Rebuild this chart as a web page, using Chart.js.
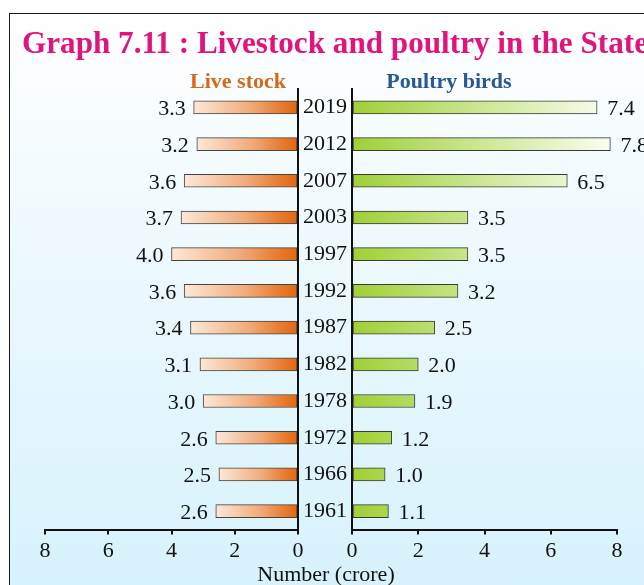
<!DOCTYPE html>
<html>
<head>
<meta charset="utf-8">
<script src="https://cdn.jsdelivr.net/npm/chart.js@4.4.1/dist/chart.umd.min.js"></script>
<style>
  html, body { margin: 0; padding: 0; background: #fff; }
  #page { position: relative; width: 644px; height: 585px; overflow: hidden; font-family: 'Liberation Serif', 'Times New Roman', serif; }
  #box {
    position: absolute; left: 9px; top: 13px; width: 700px; height: 620px;
    border: 1.5px solid #1a1a1a;
    background: linear-gradient(to bottom, #ffffff 0%, #eaf8fd 45%, #d3f1fc 100%);
  }
  canvas { position: absolute; left: 0; top: 0; }
  .txt { position: absolute; line-height: 1; white-space: nowrap; }
  #title { left: 22px; top: 26px; font-size: 32px; font-weight: bold; color: #e0147c; transform: scaleX(0.974); transform-origin: 0 0; }
  #lblLive { left: 238px; top: 70px; font-size: 22px; font-weight: bold; color: #d4691c; transform: translateX(-50%); }
  #lblPoultry { left: 449px; top: 70px; font-size: 22px; font-weight: bold; color: #2a5694; transform: translateX(-50%); }
  #xTitle { left: 326px; top: 563px; font-size: 22px; color: #111; transform: translateX(-50%); }
</style>
</head>
<body>
<div id="page">
  <div id="box"></div>
  <canvas id="leftChart" width="644" height="585"></canvas>
  <canvas id="rightChart" width="644" height="585"></canvas>
  <div class="txt" id="title">Graph 7.11 : Livestock and poultry in the State</div>
  <div class="txt" id="lblLive">Live stock</div>
  <div class="txt" id="lblPoultry">Poultry birds</div>
  <div class="txt" id="xTitle">Number (crore)</div>
</div>
<script>
// data (crore)
const years = ['2019', '2012', '2007', '2003', '1997', '1992', '1987', '1982', '1978', '1972', '1966', '1961'];
const livestock = [3.3, 3.2, 3.6, 3.7, 4.0, 3.6, 3.4, 3.1, 3.0, 2.6, 2.5, 2.6];
const poultry = [7.4, 7.8, 6.5, 3.5, 3.5, 3.2, 2.5, 2.0, 1.9, 1.2, 1.0, 1.1];
const xTicks = [0, 2, 4, 6, 8];

const serif = "'Liberation Serif', 'Times New Roman', serif";
const AXIS_H = 40;

// draw the number next to each bar end
const valueLabels = {
  id: 'valueLabels',
  afterDatasetsDraw(chart, args, opts) {
    const ctx = chart.ctx;
    const meta = chart.getDatasetMeta(0);
    const data = chart.data.datasets[0].data;
    ctx.save();
    ctx.font = '22px ' + serif;
    ctx.fillStyle = '#111';
    ctx.textBaseline = 'middle';
    ctx.textAlign = opts.side === 'left' ? 'right' : 'left';
    meta.data.forEach((bar, i) => {
      const x = opts.side === 'left' ? bar.x - 8 : bar.x + 10;
      ctx.fillText(data[i].toFixed(1), x, bar.y + 2);
    });
    ctx.restore();
  }
};

function xAxis(reverse) {
  return {
    type: 'linear',
    min: 0,
    max: 8,
    reverse: reverse,
    afterFit: (s) => { s.height = AXIS_H; },
    afterBuildTicks: (s) => { s.ticks = xTicks.map(v => ({ value: v })); },
    ticks: { color: '#111', font: { family: serif, size: 22 }, padding: 4, maxRotation: 0 },
    grid: { drawOnChartArea: false, drawTicks: true, tickLength: 5, color: '#111', lineWidth: 2 },
    border: { display: true, color: '#111', width: 2 }
  };
}

// Livestock (left, reversed)
new Chart(document.getElementById('leftChart'), {
  type: 'bar',
  data: {
    labels: years,
    datasets: [{
      data: livestock,
      backgroundColor: (c) => {
        const chart = c.chart;
        const xs = chart.scales.x;
        if (!chart.chartArea || !xs || c.dataIndex === undefined) return '#eb8c46';
        const v = livestock[c.dataIndex];
        const g = chart.ctx.createLinearGradient(xs.getPixelForValue(v), 0, xs.getPixelForValue(0), 0);
        g.addColorStop(0, '#fce8d8');
        g.addColorStop(0.55, '#f0aa78');
        g.addColorStop(0.85, '#e77a2c');
        g.addColorStop(1, '#e06812');
        return g;
      },
      borderColor: '#444',
      borderWidth: 1,
      borderSkipped: false,
      barThickness: 13
    }]
  },
  options: {
    indexAxis: 'y',
    responsive: false,
    animation: false,
    layout: { padding: { left: 45, right: 346, top: 89, bottom: 15.5 } },
    plugins: { legend: { display: false }, tooltip: { enabled: false }, valueLabels: { side: 'left' } },
    scales: {
      x: xAxis(true),
      y: {
        position: 'right',
        afterFit: (s) => { s.width = 0; },
        ticks: { display: false },
        grid: { display: false, drawTicks: false },
        border: { display: true, color: '#111', width: 2 }
      }
    }
  },
  plugins: [valueLabels]
});

// Poultry birds (right)
new Chart(document.getElementById('rightChart'), {
  type: 'bar',
  data: {
    labels: years,
    datasets: [{
      data: poultry,
      backgroundColor: (c) => {
        const chart = c.chart;
        const xs = chart.scales.x;
        if (!chart.chartArea || !xs) return '#a6d446';
        const g = chart.ctx.createLinearGradient(xs.getPixelForValue(0), 0, xs.getPixelForValue(8), 0);
        g.addColorStop(0, '#9fcf37');
        g.addColorStop(0.08, '#a6d445');
        g.addColorStop(1, '#fdfef6');
        return g;
      },
      borderColor: '#3a3a3a',
      borderWidth: 1,
      borderSkipped: false,
      barThickness: 13
    }]
  },
  options: {
    indexAxis: 'y',
    responsive: false,
    animation: false,
    layout: { padding: { left: 298, right: 27, top: 89, bottom: 15.5 } },
    plugins: { legend: { display: false }, tooltip: { enabled: false }, valueLabels: { side: 'right' } },
    scales: {
      x: xAxis(false),
      y: {
        position: 'left',
        afterFit: (s) => { s.width = 54; },
        ticks: { color: '#111', font: { family: serif, size: 22 }, padding: 5, crossAlign: 'near' },
        grid: { display: false, drawTicks: false },
        border: { display: true, color: '#111', width: 2 }
      }
    }
  },
  plugins: [valueLabels]
});
</script>
</body>
</html>
